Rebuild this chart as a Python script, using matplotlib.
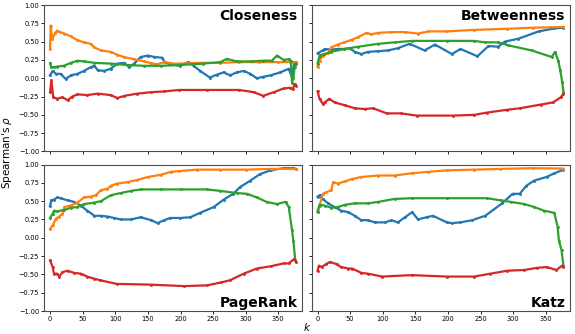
import matplotlib
matplotlib.use("Agg")
import matplotlib.pyplot as plt

# ---------------- data ----------------
PANELS = ["Closeness", "Betweenness", "PageRank", "Katz"]
XTICKS = [0, 50, 100, 150, 200, 250, 300, 350]
YTICKS = [-1.00, -0.75, -0.50, -0.25, 0.00, 0.25, 0.50, 0.75, 1.00]

# Closeness
CLO_BLUE_K = [0, 4, 9, 16, 24, 32, 42, 52, 62, 68, 73, 83, 93, 103, 114, 121, 129, 139, 150, 160, 172, 176, 185,
              199, 212, 220, 230, 245, 256, 266, 276, 286, 297, 307, 317, 327, 338, 353, 366, 371, 374, 377]
CLO_BLUE = [0.04, 0.10, 0.06, 0.06, -0.01, 0.04, 0.06, 0.10, 0.15, 0.17, 0.11, 0.10, 0.13, 0.20, 0.21, 0.15, 0.20,
            0.29, 0.31, 0.29, 0.28, 0.22, 0.19, 0.17, 0.22, 0.17, 0.10, 0.01, 0.05, 0.08, 0.04, 0.08, 0.10, 0.06,
            0.00, 0.02, 0.04, 0.08, 0.13, 0.01, 0.20, 0.22]
CLO_ORANGE_K = [0, 1, 3, 8, 11, 15, 22, 32, 42, 52, 62, 68, 78, 93, 103, 113, 129, 144, 155, 164, 175, 190, 200,
                230, 260, 290, 320, 350, 370, 377]
CLO_ORANGE = [0.40, 0.72, 0.53, 0.62, 0.65, 0.63, 0.61, 0.57, 0.52, 0.49, 0.47, 0.42, 0.38, 0.36, 0.32, 0.29, 0.26,
              0.23, 0.205, 0.19, 0.22, 0.20, 0.20, 0.21, 0.21, 0.22, 0.22, 0.22, 0.22, 0.22]
CLO_GREEN_K = [0, 2, 6, 11, 21, 32, 42, 52, 68, 93, 119, 144, 170, 198, 235, 261, 271, 286, 310, 327, 340, 348,
               358, 366, 369, 371, 373, 375, 377]
CLO_GREEN = [0.205, 0.15, 0.15, 0.16, 0.17, 0.21, 0.24, 0.23, 0.21, 0.20, 0.18, 0.17, 0.17, 0.18, 0.20, 0.22, 0.265,
             0.23, 0.23, 0.24, 0.24, 0.31, 0.25, 0.26, 0.24, -0.06, 0.00, 0.15, 0.20]
CLO_RED_K = [0, 2, 5, 11, 19, 27, 34, 42, 57, 73, 93, 103, 114, 134, 155, 175, 198, 240, 290, 312, 327, 343, 358,
             368, 372, 375, 377]
CLO_RED = [-0.19, -0.03, -0.26, -0.28, -0.26, -0.30, -0.25, -0.22, -0.23, -0.21, -0.23, -0.27, -0.24, -0.21, -0.19,
           -0.18, -0.16, -0.16, -0.16, -0.19, -0.24, -0.19, -0.14, -0.13, -0.15, -0.08, -0.10]

# Betweenness
BET_BLUE_K = [0, 8, 11, 21, 31, 41, 49, 57, 67, 77, 93, 108, 123, 141, 164, 180, 206, 219, 245, 262, 277, 287,
              308, 339, 363, 377]
BET_BLUE = [0.34, 0.38, 0.40, 0.39, 0.40, 0.40, 0.41, 0.36, 0.33, 0.36, 0.37, 0.38, 0.41, 0.47, 0.38, 0.46, 0.33,
            0.40, 0.30, 0.44, 0.43, 0.50, 0.54, 0.64, 0.68, 0.69]
BET_ORANGE_K = [0, 3, 8, 16, 21, 31, 41, 52, 62, 75, 82, 93, 113, 134, 154, 170, 198, 240, 290, 330, 377]
BET_ORANGE = [0.16, 0.24, 0.31, 0.34, 0.42, 0.46, 0.49, 0.525, 0.56, 0.62, 0.60, 0.62, 0.63, 0.63, 0.61, 0.64, 0.64,
              0.66, 0.675, 0.69, 0.70]
BET_GREEN_K = [0, 3, 10, 21, 41, 62, 93, 118, 145, 198, 240, 257, 277, 292, 328, 359, 364, 369, 372, 375, 377]
BET_GREEN = [0.20, 0.31, 0.33, 0.36, 0.40, 0.43, 0.47, 0.49, 0.51, 0.51, 0.51, 0.49, 0.49, 0.45, 0.38, 0.29, 0.36,
             0.24, 0.11, -0.05, -0.19]
BET_RED_K = [0, 3, 8, 11, 18, 26, 42, 57, 72, 85, 106, 128, 152, 208, 240, 259, 291, 310, 342, 361, 373, 377]
BET_RED = [-0.18, -0.28, -0.35, -0.33, -0.28, -0.33, -0.37, -0.41, -0.42, -0.41, -0.48, -0.48, -0.51, -0.51, -0.50,
           -0.47, -0.43, -0.41, -0.36, -0.33, -0.26, -0.21]

# PageRank
PR_BLUE_K = [0, 2, 6, 11, 16, 27, 37, 47, 57, 68, 78, 88, 98, 108, 124, 139, 155, 165, 175, 184, 199, 215, 230,
             251, 266, 281, 291, 307, 322, 338, 358, 373, 377]
PR_BLUE = [0.44, 0.51, 0.52, 0.55, 0.54, 0.51, 0.49, 0.44, 0.37, 0.30, 0.30, 0.29, 0.27, 0.25, 0.25, 0.28, 0.24,
           0.20, 0.24, 0.27, 0.27, 0.28, 0.34, 0.42, 0.52, 0.60, 0.69, 0.78, 0.87, 0.92, 0.95, 0.95, 0.94]
PR_ORANGE_K = [0, 4, 9, 14, 19, 22, 32, 42, 52, 62, 70, 78, 88, 93, 103, 119, 134, 150, 170, 185, 198, 225, 260,
               300, 340, 377]
PR_ORANGE = [0.12, 0.17, 0.26, 0.29, 0.33, 0.42, 0.44, 0.48, 0.55, 0.56, 0.58, 0.65, 0.67, 0.71, 0.74, 0.76, 0.79,
             0.83, 0.86, 0.90, 0.91, 0.93, 0.93, 0.93, 0.94, 0.94]
PR_GREEN_K = [0, 4, 6, 11, 22, 32, 42, 52, 68, 78, 93, 108, 124, 139, 170, 200, 240, 261, 286, 302, 317, 332, 348,
              361, 366, 371, 373, 376]
PR_GREEN = [0.27, 0.33, 0.37, 0.36, 0.38, 0.41, 0.42, 0.46, 0.48, 0.50, 0.58, 0.61, 0.64, 0.66, 0.66, 0.66, 0.66,
            0.64, 0.61, 0.60, 0.55, 0.49, 0.46, 0.49, 0.42, 0.10, -0.04, -0.31]
PR_RED_K = [0, 4, 6, 11, 14, 19, 27, 37, 47, 57, 68, 77, 102, 154, 205, 241, 262, 276, 297, 317, 338, 358, 366,
            374, 377]
PR_RED = [-0.31, -0.40, -0.49, -0.49, -0.53, -0.47, -0.45, -0.48, -0.49, -0.53, -0.56, -0.58, -0.63, -0.64, -0.66,
          -0.65, -0.61, -0.58, -0.49, -0.42, -0.39, -0.35, -0.35, -0.29, -0.33]

# Katz
KATZ_BLUE_K = [0, 3, 8, 16, 26, 36, 47, 57, 67, 77, 88, 104, 113, 123, 134, 145, 154, 167, 177, 198, 206, 219, 237,
               257, 283, 299, 310, 320, 332, 351, 363, 377]
KATZ_BLUE = [0.56, 0.58, 0.53, 0.47, 0.42, 0.37, 0.35, 0.30, 0.24, 0.24, 0.21, 0.21, 0.24, 0.21, 0.28, 0.35, 0.25,
             0.28, 0.30, 0.21, 0.20, 0.21, 0.24, 0.30, 0.47, 0.60, 0.60, 0.71, 0.78, 0.83, 0.88, 0.93]
KATZ_ORANGE_K = [0, 3, 8, 13, 21, 24, 31, 42, 52, 67, 93, 118, 144, 170, 198, 240, 280, 330, 377]
KATZ_ORANGE = [0.37, 0.44, 0.60, 0.62, 0.65, 0.76, 0.74, 0.77, 0.80, 0.83, 0.85, 0.85, 0.88, 0.90, 0.92, 0.93, 0.94,
               0.95, 0.945]
KATZ_GREEN_K = [0, 3, 11, 21, 31, 42, 57, 77, 93, 118, 144, 198, 260, 281, 296, 317, 332, 347, 363, 368, 370, 374,
                377]
KATZ_GREEN = [0.35, 0.45, 0.44, 0.41, 0.42, 0.45, 0.47, 0.47, 0.49, 0.53, 0.54, 0.54, 0.54, 0.51, 0.49, 0.46, 0.42,
              0.37, 0.34, 0.15, -0.04, -0.17, -0.38]
KATZ_RED_K = [0, 2, 6, 13, 19, 29, 36, 47, 53, 67, 77, 99, 144, 198, 240, 265, 291, 317, 337, 351, 366, 375, 377]
KATZ_RED = [-0.45, -0.38, -0.40, -0.36, -0.33, -0.36, -0.40, -0.42, -0.42, -0.48, -0.49, -0.53, -0.51, -0.53, -0.53,
            -0.49, -0.45, -0.44, -0.41, -0.40, -0.44, -0.38, -0.40]

SERIES = {
    "Closeness": [(CLO_BLUE_K, CLO_BLUE), (CLO_ORANGE_K, CLO_ORANGE), (CLO_GREEN_K, CLO_GREEN), (CLO_RED_K, CLO_RED)],
    "Betweenness": [(BET_BLUE_K, BET_BLUE), (BET_ORANGE_K, BET_ORANGE), (BET_GREEN_K, BET_GREEN), (BET_RED_K, BET_RED)],
    "PageRank": [(PR_BLUE_K, PR_BLUE), (PR_ORANGE_K, PR_ORANGE), (PR_GREEN_K, PR_GREEN), (PR_RED_K, PR_RED)],
    "Katz": [(KATZ_BLUE_K, KATZ_BLUE), (KATZ_ORANGE_K, KATZ_ORANGE), (KATZ_GREEN_K, KATZ_GREEN), (KATZ_RED_K, KATZ_RED)],
}
COLORS = ["#1f77b4", "#ff7f0e", "#2ca02c", "#d62728"]

# ---------------- figure ----------------
fig, axes = plt.subplots(2, 2, figsize=(5.75, 3.34), dpi=100, sharex=True, sharey=True)
fig.subplots_adjust(left=44 / 575, right=570 / 575, top=1 - 5 / 334, bottom=1 - 311 / 334,
                    wspace=0.035, hspace=0.089)

for ax, name in zip(axes.flat, PANELS):
    for (k, v), c in zip(SERIES[name], COLORS):
        ax.plot(k, v, color=c, lw=1.6, marker='.', ms=2.2, solid_joinstyle='round')
    top = name in ("Closeness", "Betweenness")
    ax.text(0.982, 0.975 if top else 0.025, name, transform=ax.transAxes, ha='right',
            va='top' if top else 'baseline', fontsize=10, fontweight='bold')
    ax.set_xlim(-9.3, 387)
    ax.set_ylim(-1, 1)
    ax.set_xticks(XTICKS)
    ax.set_yticks(YTICKS)
    ax.tick_params(labelsize=4.8, length=2, width=0.6, pad=1.5)
    for s in ax.spines.values():
        s.set_linewidth(0.8)
        s.set_color('0.3')

fig.text(0.012, 0.545, "Spearman's $\\rho$", rotation=90, ha='center', va='center', fontsize=7.5)
fig.text(307 / 575, 1 - 327 / 334, "$k$", ha='center', va='center', fontsize=7.5)

fig.savefig("out.png", dpi=100)
